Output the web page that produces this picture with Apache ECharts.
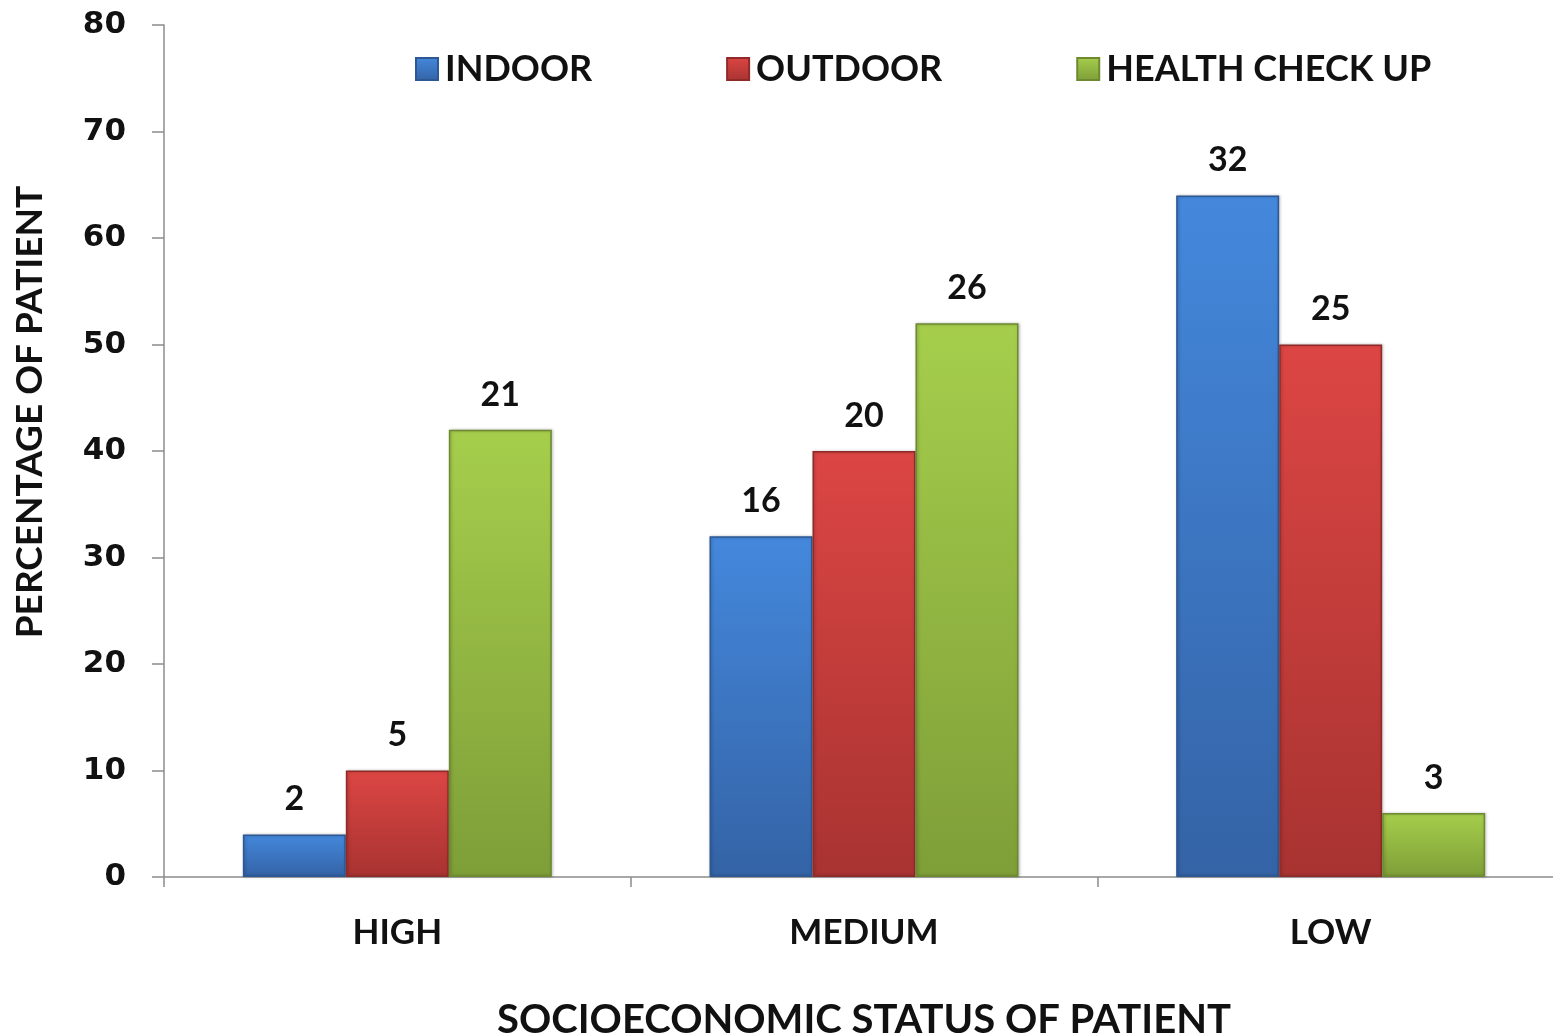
<!DOCTYPE html>
<html>
<head>
<meta charset="utf-8">
<script src="https://cdn.jsdelivr.net/npm/echarts@6/dist/echarts.min.js"></script>
<style>
  html, body { margin: 0; padding: 0; background: #fff; }
  #chart { width: 1553px; height: 1036px; }
</style>
</head>
<body>
<div id="chart"></div>
<script>
// Socioeconomic status groups
const categories = ['HIGH', 'MEDIUM', 'LOW'];
const seriesNames = ['INDOOR', 'OUTDOOR', 'HEALTH CHECK UP'];

// Percentage of patients (bar heights)
const indoorPct = [4, 32, 64];
const outdoorPct = [10, 40, 50];
const checkupPct = [42, 52, 6];

// Number of patients (printed above each bar)
const indoorCount = [2, 16, 32];
const outdoorCount = [5, 20, 25];
const checkupCount = [21, 26, 3];

const yTicks = [0, 10, 20, 30, 40, 50, 60, 70, 80];

const labelFont = 'Lato, "Open Sans", sans-serif';

function grad(top, bottom) {
  return new echarts.graphic.LinearGradient(0, 0, 0, 1, [
    { offset: 0, color: top },
    { offset: 1, color: bottom }
  ]);
}

const palette = [
  { top: '#4488dc', bottom: '#3463a6', border: '#2e5894', legend: '#3a74c4' },
  { top: '#dc4644', bottom: '#a83331', border: '#8f2a28', legend: '#c93d3b' },
  { top: '#a6ce4c', bottom: '#7e9e38', border: '#6d8a30', legend: '#93b843' }
];

const pctSets = [indoorPct, outdoorPct, checkupPct];
const countSets = [indoorCount, outdoorCount, checkupCount];

const series = seriesNames.map((name, i) => ({
  name: name,
  type: 'bar',
  barWidth: 103,
  barGap: '0%',
  data: pctSets[i],
  itemStyle: {
    color: grad(palette[i].top, palette[i].bottom),
    borderColor: palette[i].border,
    borderWidth: 1.5,
    shadowColor: 'rgba(0,0,0,0.25)',
    shadowBlur: 3,
    shadowOffsetX: 1,
    shadowOffsetY: 0
  },
  label: {
    show: true,
    position: 'top',
    distance: 18,
    color: '#111',
    fontFamily: labelFont,
    fontWeight: 'bold',
    fontSize: 34,
    formatter: p => String(countSets[i][p.dataIndex])
  }
}));

const chart = echarts.init(document.getElementById('chart'), null, { renderer: 'canvas' });
chart.setOption({
  animation: false,
  backgroundColor: '#ffffff',
  color: palette.map(p => p.legend),
  grid: {
    left: 164, right: -11, top: 25, bottom: 159,
    containLabel: false,
    outerBoundsMode: 'none'
  },
  legend: {
    left: 410,
    top: 46,
    itemWidth: 22,
    itemHeight: 22,
    itemGap: 134,
    icon: 'rect',
    textStyle: {
      fontFamily: labelFont,
      fontWeight: 'bold',
      fontSize: 36,
      color: '#111',
      padding: [0, 0, 0, 2]
    },
    data: seriesNames
  },
  xAxis: {
    type: 'category',
    data: categories,
    axisLine: { lineStyle: { color: '#8c8c8c', width: 1.5 } },
    axisTick: { show: true, length: 10, lineStyle: { color: '#8c8c8c', width: 1.5 } },
    axisLabel: {
      color: '#111',
      fontFamily: labelFont,
      fontWeight: 'bold',
      fontSize: 35,
      margin: 38
    },
    name: 'SOCIOECONOMIC STATUS OF PATIENT',
    nameLocation: 'middle',
    nameGap: 123,
    nameTextStyle: {
      color: '#111',
      fontFamily: labelFont,
      fontWeight: 'bold',
      fontSize: 40
    }
  },
  yAxis: {
    type: 'value',
    min: yTicks[0],
    max: yTicks[yTicks.length - 1],
    interval: yTicks[1] - yTicks[0],
    splitLine: { show: false },
    axisLine: { show: true, lineStyle: { color: '#8c8c8c', width: 1.5 } },
    axisTick: { show: true, length: 12, lineStyle: { color: '#8c8c8c', width: 1.5 } },
    axisLabel: {
      color: '#111',
      fontFamily: '"DejaVu Sans", Verdana, sans-serif',
      fontWeight: 'bold',
      fontSize: 31,
      margin: 38
    },
    name: 'PERCENTAGE OF PATIENT',
    nameLocation: 'middle',
    nameGap: 115,
    nameRotate: 90,
    nameTextStyle: {
      color: '#111',
      fontFamily: labelFont,
      fontWeight: 'bold',
      fontSize: 37,
      padding: [0, 0, 0, 78]
    }
  },
  series: series
});
</script>
</body>
</html>
